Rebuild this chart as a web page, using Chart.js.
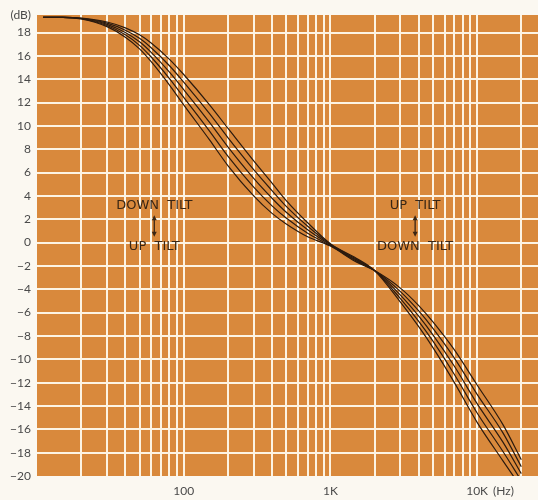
<!DOCTYPE html>
<html><head><meta charset="utf-8">
<script src="https://cdn.jsdelivr.net/npm/chart.js@4.4.0/dist/chart.umd.min.js"></script>
<style>html,body{margin:0;padding:0;background:#fbf8f1;}#wrap{width:538px;height:500px;}</style>
</head><body><div id="wrap"><canvas id="c" width="538" height="500"></canvas></div>
<script>
// Frequencies (Hz) at which the curves were read
const freqs = [11,15,20,30,40,50,60,80,100,150,200,300,400,500,700,1000,1500,2000,3000,4000,5000,7000,10000,15000,20000];
// Five tilt curves (dB), top-at-bass ("down tilt") to bottom-at-bass ("up tilt")
const curveA = [19.3,19.3,19.24,18.9,18.4,17.8,17.1,15.7,14.4,11.8,9.8,7.0,5.1,3.6,1.7,-0.1,-1.34,-2.4,-5.1,-7.2,-9.0,-12.0,-15.4,-18.7,-21.0];
const curveB = [19.3,19.3,19.22,18.8,18.2,17.5,16.7,15.15,13.75,11.05,9.0,6.25,4.45,3.1,1.4,-0.15,-1.42,-2.4,-4.8,-6.75,-8.45,-11.3,-14.6,-17.9,-20.4];
const curveC = [19.3,19.3,19.2,18.7,18.0,17.2,16.3,14.6,13.1,10.3,8.2,5.5,3.8,2.6,1.1,-0.2,-1.5,-2.4,-4.5,-6.3,-7.9,-10.6,-13.8,-17.1,-19.8];
const curveD = [19.3,19.3,19.18,18.6,17.8,16.9,15.9,14.05,12.45,9.55,7.4,4.75,3.15,2.1,0.8,-0.25,-1.58,-2.4,-4.2,-5.85,-7.35,-9.9,-13.0,-16.3,-19.2];
const curveE = [19.3,19.3,19.16,18.5,17.6,16.6,15.5,13.5,11.8,8.8,6.6,4.0,2.5,1.6,0.5,-0.3,-1.66,-2.4,-3.9,-5.4,-6.8,-9.2,-12.2,-15.6,-18.6];
// Axis ticks
const xGridFreqs = [20,30,40,50,60,70,80,90,100,200,300,400,500,600,700,800,900,1000,2000,3000,4000,5000,6000,7000,8000,9000,10000,20000];
const xTickValues = [100,1000,10000];
const xTickLabels = ['100','1K','10K'];
const xUnit = '(Hz)';
const yTickValues = [-20,-18,-16,-14,-12,-10,-8,-6,-4,-2,0,2,4,6,8,10,12,14,16,18];
const yUnit = '(dB)';
const Y_MIN = -20, Y_MAX = 19.5, X_MIN = 10, X_MAX = 26000;

const ORANGE = '#d9893c';
const GRID = '#fdf4e3';
const INK = '#2b1a0e';
const LABEL = '#4a4a4a';

const curves = [curveA, curveB, curveC, curveD, curveE];
const datasets = curves.map(c => ({
  data: freqs.map((f, i) => ({x: f, y: c[i]})),
  borderColor: INK,
  borderWidth: 1.2,
  pointRadius: 0,
  fill: false,
  cubicInterpolationMode: 'monotone'
}));

const bgPlugin = {
  id: 'bg',
  beforeDraw(chart) {
    const {ctx, chartArea: a} = chart;
    ctx.save();
    ctx.fillStyle = ORANGE;
    ctx.fillRect(a.left, a.top, a.right - a.left, a.bottom - a.top);
    ctx.restore();
  },
  afterDraw(chart) {
    const {ctx} = chart;
    const xs = chart.scales.x, ys = chart.scales.y;
    ctx.save();
    ctx.fillStyle = LABEL;
    ctx.font = '12px Lato, "DejaVu Sans", sans-serif';
    ctx.textBaseline = 'middle';
    ctx.textAlign = 'center';
    const ly = 491;
    xTickValues.forEach((v, i) => {
      const px = xs.getPixelForValue(v);
      ctx.fillText(xTickLabels[i], px, ly);
      if (i === xTickValues.length - 1) {
        const w = ctx.measureText(xTickLabels[i]).width;
        ctx.textAlign = 'left';
        ctx.fillText(xUnit, px + w / 2 + 5, ly);
        ctx.textAlign = 'center';
      }
    });
    // Tilt annotations
    ctx.fillStyle = '#3a2614';
    ctx.strokeStyle = '#3a2614';
    ctx.font = '13px "DejaVu Sans", sans-serif';
    const note = (f, top, bottom) => {
      const cx = xs.getPixelForValue(f);
      const y1 = ys.getPixelForValue(3.2), y2 = ys.getPixelForValue(-0.35);
      ctx.textAlign = 'center';
      ctx.fillText(top, cx, y1);
      ctx.fillText(bottom, cx, y2);
      const a1 = ys.getPixelForValue(2.35), a2 = ys.getPixelForValue(0.5);
      ctx.lineWidth = 1.3;
      ctx.beginPath(); ctx.moveTo(cx, a1 + 3); ctx.lineTo(cx, a2 - 3); ctx.stroke();
      ctx.beginPath(); ctx.moveTo(cx, a1); ctx.lineTo(cx - 2.5, a1 + 5); ctx.lineTo(cx + 2.5, a1 + 5); ctx.closePath(); ctx.fill();
      ctx.beginPath(); ctx.moveTo(cx, a2); ctx.lineTo(cx - 2.5, a2 - 5); ctx.lineTo(cx + 2.5, a2 - 5); ctx.closePath(); ctx.fill();
    };
    note(63, 'DOWN  TILT', 'UP  TILT');
    note(3780, 'UP  TILT', 'DOWN  TILT');
    ctx.restore();
  }
};

new Chart(document.getElementById('c'), {
  type: 'line',
  data: {datasets},
  options: {
    responsive: false,
    devicePixelRatio: 1,
    animation: false,
    layout: {padding: {left: 0, right: 0, top: 15, bottom: 24}},
    plugins: {legend: {display: false}, tooltip: {enabled: false}},
    scales: {
      x: {
        type: 'logarithmic',
        min: X_MIN, max: X_MAX,
        afterBuildTicks: s => { s.ticks = xGridFreqs.map(v => ({value: v})); },
        afterFit: s => { s.height = 0; },
        ticks: {display: false},
        border: {display: false},
        grid: {color: GRID, lineWidth: 2, drawTicks: false}
      },
      y: {
        min: Y_MIN, max: Y_MAX,
        afterBuildTicks: s => { s.ticks = yTickValues.concat([Y_MAX]).map(v => ({value: v})); },
        afterFit: s => { s.width = 37; },
        ticks: {
          color: LABEL,
          font: {family: 'Lato, "DejaVu Sans", sans-serif', size: 12},
          padding: 6,
          callback: v => v === Y_MAX ? yUnit : (v < 0 ? '\u2212' + Math.abs(v) : String(v))
        },
        border: {display: false},
        grid: {
          color: c => (c.tick && (c.tick.value === Y_MAX || c.tick.value === Y_MIN)) ? 'rgba(0,0,0,0)' : GRID,
          lineWidth: 2,
          drawTicks: false
        }
      }
    }
  },
  plugins: [bgPlugin]
});
</script></body></html>
